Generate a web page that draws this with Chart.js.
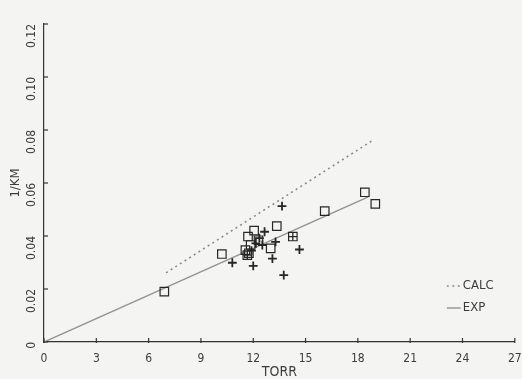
<!DOCTYPE html>
<html><head><meta charset="utf-8">
<script src="https://cdn.jsdelivr.net/npm/chart.js@4/dist/chart.umd.min.js"></script>
<style>
html,body{margin:0;padding:0;background:#f4f4f2;overflow:hidden}
#wrap{width:522px;height:379px;position:relative}
</style></head>
<body><div id="wrap"><canvas id="c" width="522" height="379"></canvas></div>
<script>
// ---- data ----
const xTickValues = [0, 3, 6, 9, 12, 15, 18, 21, 24, 27];
const yTickValues = [0, 0.02, 0.04, 0.06, 0.08, 0.10, 0.12];
const yTickLabels = ['0', '0.02', '0.04', '0.06', '0.08', '0.10', '0.12'];
const xTitle = 'TORR';
const yTitle = '1/KM';

// open squares (measured points)
const squareX = [6.9, 10.2, 11.55, 11.7, 11.85, 12.05, 12.3, 13.0, 13.35, 16.1, 18.4, 19.0, 11.75];
const squareY = [0.019, 0.0332, 0.0347, 0.0398, 0.0366, 0.0420, 0.0384, 0.0353, 0.0437, 0.0494, 0.0565, 0.0521, 0.0335];
// squares with a cross inside
const boxedX = [14.27, 11.66];
const boxedY = [0.0398, 0.0328];
// crosses
const crossX = [13.65, 12.65, 10.8, 12.0, 13.1, 13.75, 14.65, 13.28, 12.52, 12.15, 11.9, 12.35];
const crossY = [0.0513, 0.0416, 0.0299, 0.0287, 0.0315, 0.0252, 0.0349, 0.0378, 0.0366, 0.0372, 0.0345, 0.0392];
// fitted lines
const expX = [0, 18.6];
const expY = [0, 0.0548];
const calcX = [7.0, 18.9];
const calcY = [0.0261, 0.0763];

const zip = (xs, ys) => xs.map((x, i) => ({x, y: ys[i]}));

const FONT = "'Liberation Sans Narrow','DejaVu Sans Condensed','DejaVu Sans',sans-serif";
const TXT = '#3c3c3c';
const MARK = '#262626';

const insideTicks = {
  id: 'insideTicks',
  afterDraw(chart) {
    const ctx = chart.ctx, xs = chart.scales.x, ys = chart.scales.y, a = chart.chartArea;
    ctx.save();
    ctx.strokeStyle = '#333'; ctx.lineWidth = 1.2;
    xs.ticks.forEach(t => {
      const px = xs.getPixelForValue(t.value);
      ctx.beginPath(); ctx.moveTo(px, a.bottom + 1); ctx.lineTo(px, a.bottom - 4); ctx.stroke();
    });
    ys.ticks.forEach(t => {
      const py = ys.getPixelForValue(t.value);
      ctx.beginPath(); ctx.moveTo(a.left - 1, py); ctx.lineTo(a.left + 4, py); ctx.stroke();
    });
    ctx.restore();
  }
};

const legendPlugin = {
  id: 'cornerLegend',
  afterDraw(chart) {
    const ctx = chart.ctx, a = chart.chartArea;
    const items = [chart.data.datasets[0], chart.data.datasets[1]];
    ctx.save();
    ctx.font = '13px ' + FONT;
    ctx.textBaseline = 'middle';
    items.forEach((ds, i) => {
      const y = a.bottom - 56 + i * 22;
      const x0 = a.right - 68;
      ctx.strokeStyle = ds.borderColor; ctx.lineWidth = ds.borderWidth;
      ctx.setLineDash(ds.borderDash || []);
      ctx.beginPath(); ctx.moveTo(x0, y); ctx.lineTo(x0 + 14, y); ctx.stroke();
      ctx.setLineDash([]);
      ctx.fillStyle = TXT;
      ctx.fillText(ds.label, x0 + 16, y);
    });
    ctx.restore();
  }
};

new Chart(document.getElementById('c'), {
  type: 'scatter',
  data: {
    datasets: [
      {label: 'CALC', type: 'line', data: zip(calcX, calcY), borderColor: '#8a8a8a', borderWidth: 1.6,
       borderDash: [2, 3.5], pointRadius: 0, fill: false, order: 5},
      {label: 'EXP', type: 'line', data: zip(expX, expY), borderColor: '#939393', borderWidth: 1.4,
       pointRadius: 0, fill: false, order: 5},
      {label: 'squares', data: zip(squareX, squareY), pointStyle: 'rect', pointRadius: 6,
       pointBorderColor: MARK, pointBackgroundColor: 'rgba(0,0,0,0)', pointBorderWidth: 1.2, order: 1},
      {label: 'boxed', data: zip(boxedX, boxedY), pointStyle: 'rect', pointRadius: 6,
       pointBorderColor: MARK, pointBackgroundColor: 'rgba(0,0,0,0)', pointBorderWidth: 1.2, order: 1},
      {label: 'boxedCross', data: zip(boxedX, boxedY), pointStyle: 'cross', pointRadius: 4.2,
       pointBorderColor: MARK, pointBorderWidth: 1.3, order: 1},
      {label: 'crosses', data: zip(crossX, crossY), pointStyle: 'cross', pointRadius: 4.4,
       pointBorderColor: MARK, pointBorderWidth: 1.8, order: 1}
    ]
  },
  options: {
    responsive: false,
    animation: false,
    layout: {padding: {top: 24, right: 5, left: 0, bottom: 0}},
    plugins: {legend: {display: false}, tooltip: {enabled: false}},
    scales: {
      x: {
        type: 'linear', min: 0, max: 27,
        afterBuildTicks: s => { s.ticks = xTickValues.map(v => ({value: v})); },
        afterFit: s => { s.height = 37; s.paddingLeft = 0; s.paddingRight = 0; },
        ticks: {color: TXT, font: {family: FONT, size: 12}, padding: 2, maxRotation: 0, minRotation: 0,
                callback: v => String(v)},
        grid: {display: false},
        border: {display: true, color: '#333', width: 1.2},
        title: {display: true, text: xTitle, color: TXT, font: {family: FONT, size: 14, lineHeight: 1.0}, padding: {top: 0, bottom: 0}}
      },
      y: {
        type: 'linear', min: 0, max: 0.12,
        afterBuildTicks: s => { s.ticks = yTickValues.map(v => ({value: v})); },
        afterFit: s => { s.width = 44; s.paddingTop = 0; s.paddingBottom = 0; },
        ticks: {color: TXT, font: {family: FONT, size: 12}, padding: 4, minRotation: 90, maxRotation: 90,
                callback: (v) => { const i = yTickValues.findIndex(t => Math.abs(t - v) < 1e-9); return i >= 0 ? yTickLabels[i] : ''; }},
        grid: {display: false},
        border: {display: true, color: '#333', width: 1.2},
        title: {display: true, text: yTitle, color: TXT, font: {family: FONT, size: 13, lineHeight: 1.0}, padding: {top: 9, bottom: 0}}
      }
    }
  },
  plugins: [insideTicks, legendPlugin]
});
</script>
</body></html>
